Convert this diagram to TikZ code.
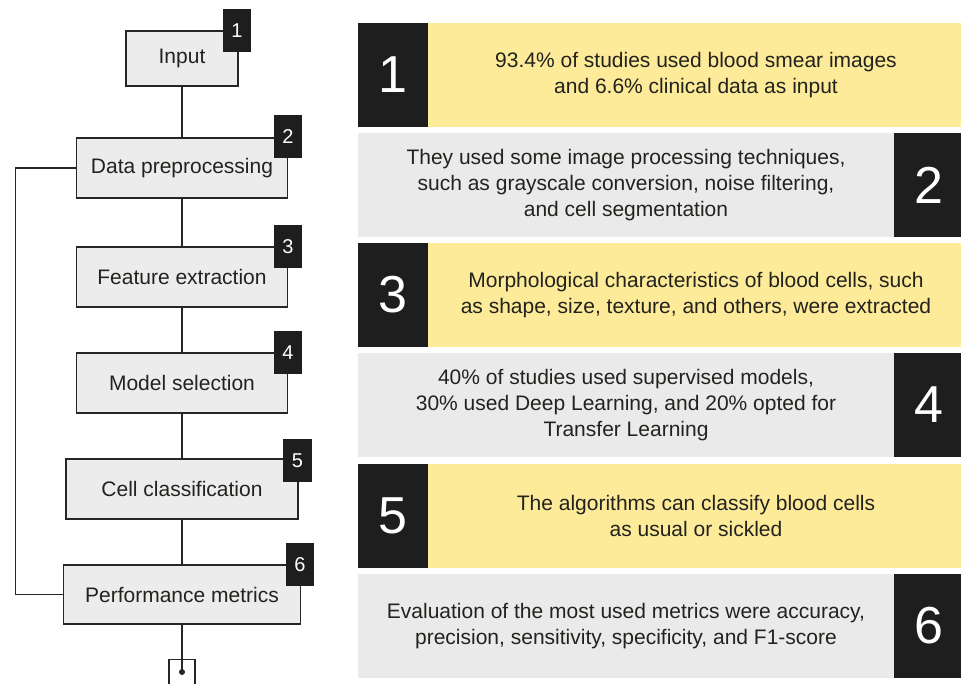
\documentclass[tikz,border=0pt]{standalone}
\usepackage{fontspec}
\setmainfont{Liberation Sans}
\definecolor{boxfill}{RGB}{236,236,236}
\definecolor{boxline}{RGB}{38,38,38}
\definecolor{inkdark}{RGB}{34,34,30}
\definecolor{badgeblack}{RGB}{30,30,30}
\definecolor{panelyellow}{RGB}{253,235,153}
\definecolor{panelgrey}{RGB}{234,234,234}
\begin{document}
\begin{tikzpicture}[x=1pt,y=-1pt,
  stage/.style={draw=boxline, fill=boxfill, line width=1.3pt, minimum height=60pt,
    inner sep=0pt, font=\fontsize{21}{25}\selectfont, text=inkdark},
  badge/.style={fill=badgeblack, minimum width=28pt, minimum height=43pt,
    inner sep=0pt, text=white, font=\fontsize{20}{24}\selectfont},
  flow/.style={draw=boxline, line width=1.2pt},
  panel/.style={minimum height=104pt, inner sep=0pt, align=center,
    font=\fontsize{21}{26}\selectfont, text=inkdark},
  yellowpanel/.style={panel, fill=panelyellow, minimum width=536pt},
  greypanel/.style={panel, fill=panelgrey, minimum width=536pt},
  bignum/.style={fill=badgeblack, minimum width=70pt, minimum height=104pt,
    inner sep=0pt, text=white, font=\fontsize{52}{52}\selectfont}
]
\useasboundingbox (0,0) rectangle (961,683);

% --- process stages ---
\node[stage, minimum width=112pt, minimum height=55pt] (s1) at (182,58.5) {Input};
\node[stage, minimum width=211pt] (s2) at (182,168) {Data preprocessing};
\node[stage, minimum width=211pt] (s3) at (182,277) {Feature extraction};
\node[stage, minimum width=211pt] (s4) at (182,383) {Model selection};
\node[stage, minimum width=232pt] (s5) at (182,489) {Cell classification};
\node[stage, minimum width=237pt, minimum height=59pt] (s6) at (182,594.5) {Performance metrics};

% --- connectors ---
\draw[flow] (s1.south) -- (s2.north);
\draw[flow] (s2.south) -- (s3.north);
\draw[flow] (s3.south) -- (s4.north);
\draw[flow] (s4.south) -- (s5.north);
\draw[flow] (s5.south) -- (s6.north);
\draw[flow] (s6.west) -- ++(-47,0) |- (s2.west);

% --- terminal ---
\coordinate (enddot) at (182,672);
\node[draw=boxline, line width=1.2pt, minimum width=26pt, minimum height=40pt,
  inner sep=0pt, anchor=north] (term) at (182,659) {};
\draw[flow] (s6.south) -- (enddot);
\fill[boxline] (enddot) circle (3pt);

% --- stage badges ---
\node[badge] (b1) at (237,30.5) {1};
\node[badge] (b2) at (288,136.5) {2};
\node[badge] (b3) at (288,246.5) {3};
\node[badge] (b4) at (288,352.5) {4};
\node[badge, minimum width=29pt] (b5) at (297.5,460.5) {5};
\node[badge] (b6) at (300,564.5) {6};

% --- summary panels ---
\node[yellowpanel] (p1) at (696,75) {93.4\% of studies used blood smear images\\and 6.6\% clinical data as input};
\node[bignum] (n1) at (393,75) {1};

\node[greypanel] (p2) at (626,185) {They used some image processing techniques,\\such as grayscale conversion, noise filtering,\\and cell segmentation};
\node[bignum] (n2) at (929,185) {2};

\node[yellowpanel] (p3) at (696,295) {Morphological characteristics of blood cells, such\\as shape, size, texture, and others, were extracted};
\node[bignum] (n3) at (393,295) {3};

\node[greypanel] (p4) at (626,405) {40\% of studies used supervised models,\\30\% used Deep Learning, and 20\% opted for\\Transfer Learning};
\node[bignum] (n4) at (929,405) {4};

\node[yellowpanel] (p5) at (696,516) {The algorithms can classify blood cells\\as usual or sickled};
\node[bignum] (n5) at (393,516) {5};

\node[greypanel] (p6) at (626,626) {Evaluation of the most used metrics were accuracy,\\precision, sensitivity, specificity, and F1-score};
\node[bignum] (n6) at (929,626) {6};
\end{tikzpicture}
\end{document}
